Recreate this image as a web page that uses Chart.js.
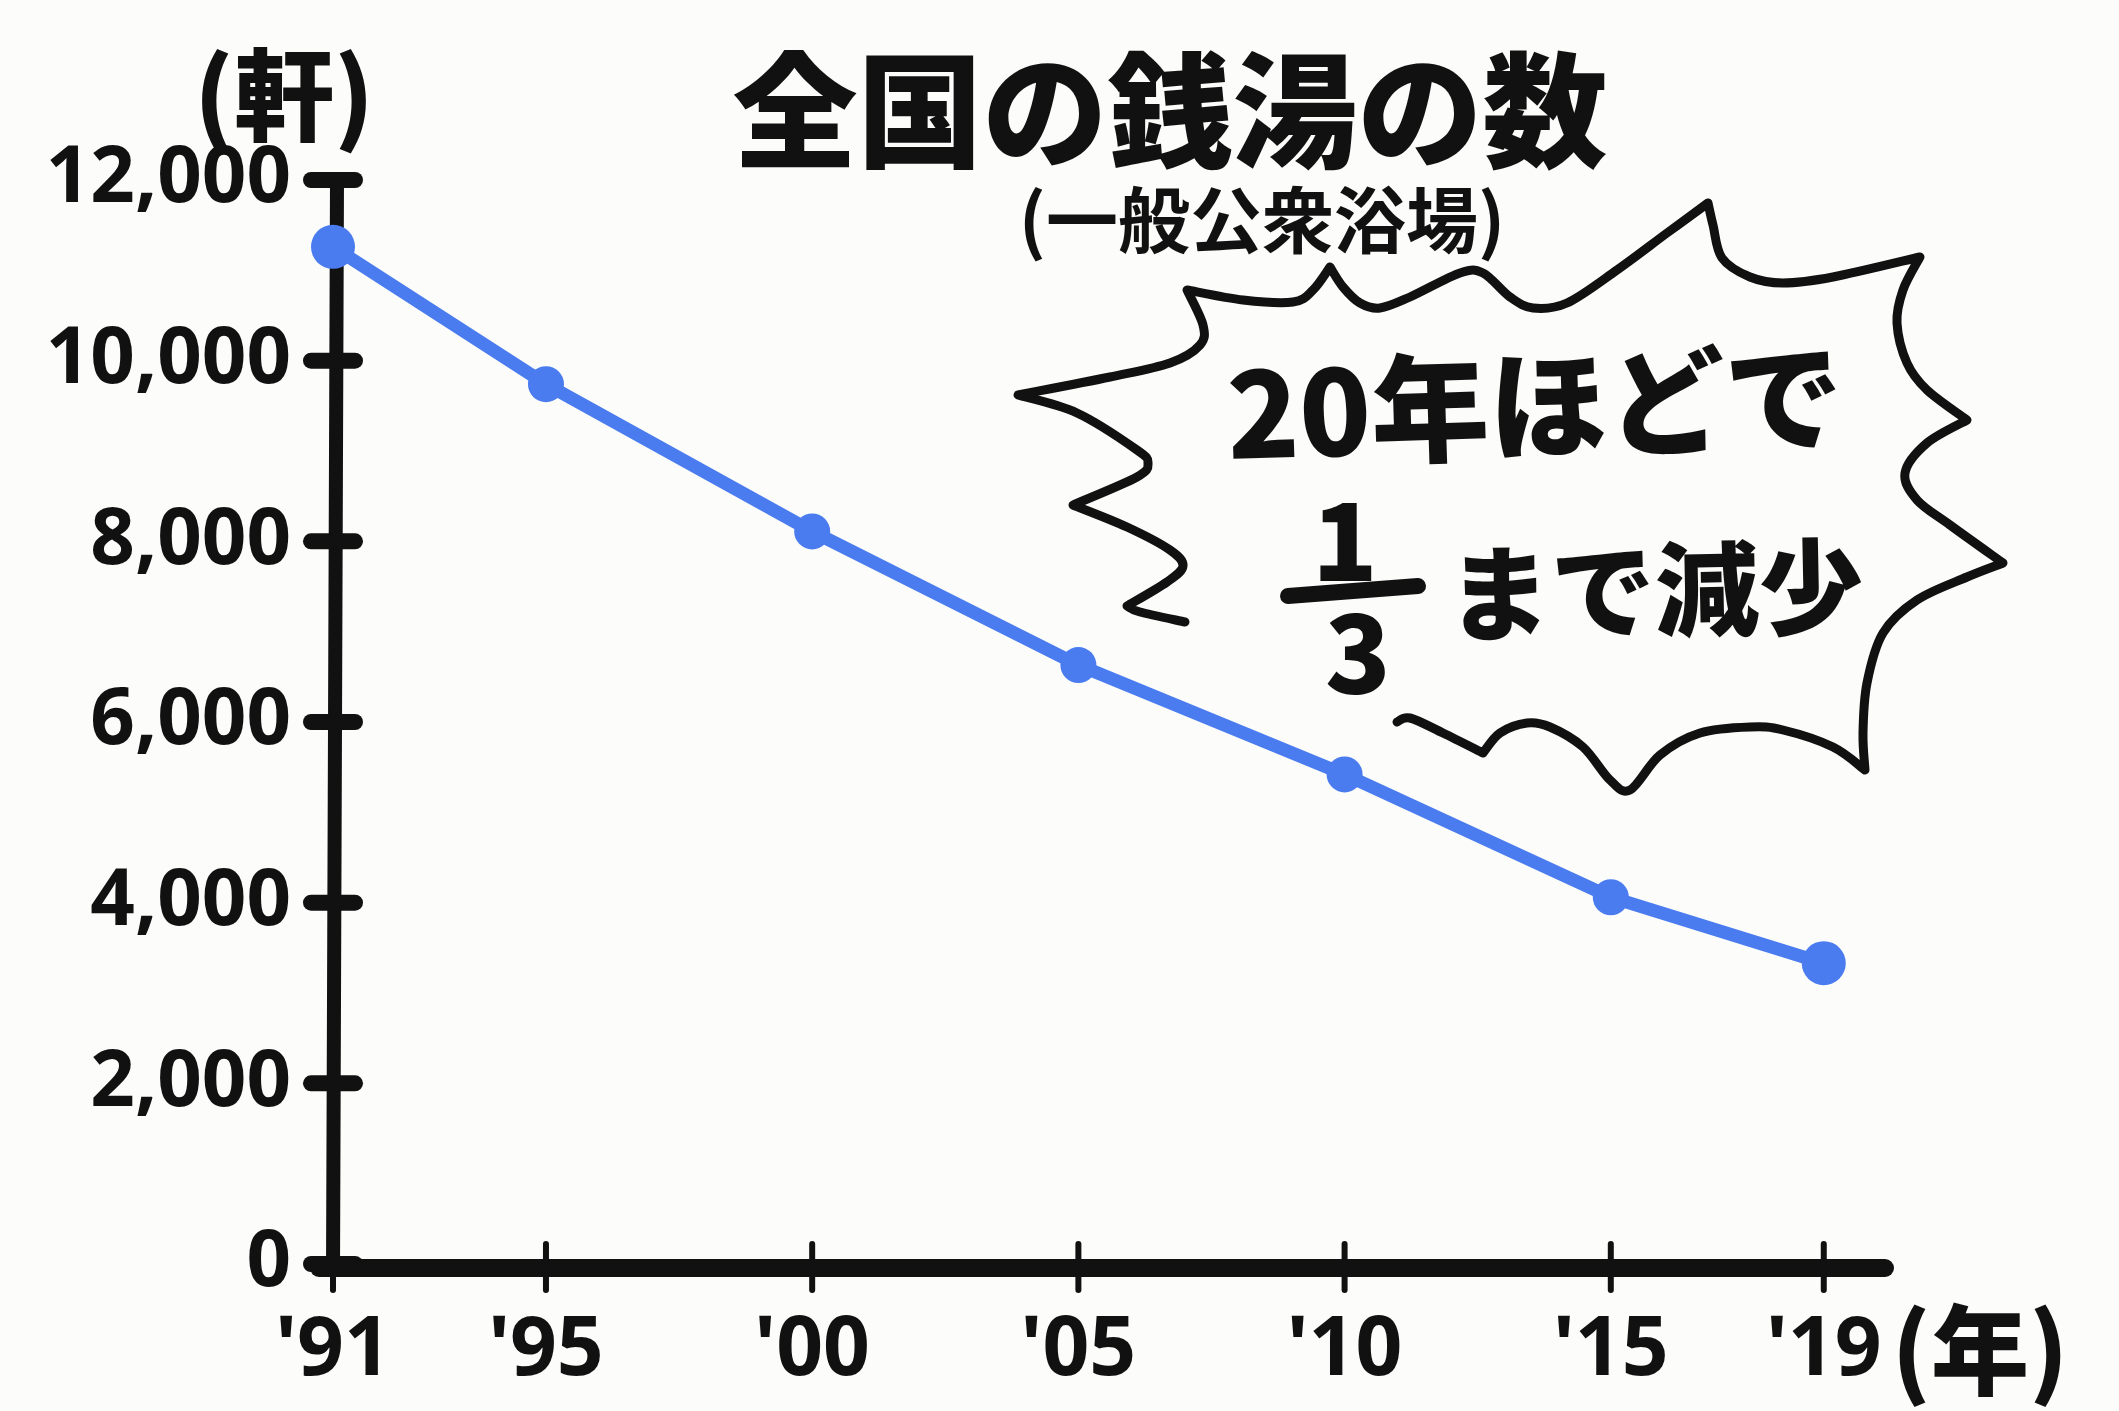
<!DOCTYPE html>
<html>
<head>
<meta charset="utf-8">
<script src="https://cdn.jsdelivr.net/npm/chart.js@4.4.1/dist/chart.umd.min.js"></script>
<style>
  html, body { margin: 0; background: #fcfcfa; }
  canvas { display: block; }
</style>
</head>
<body>
<canvas id="chart" width="2119" height="1411"></canvas>
<script>
// data
const years = [1991, 1995, 2000, 2005, 2010, 2015, 2019];
const yearLabels = ["'91", "'95", "'00", "'05", "'10", "'15", "'19"];
const bathCounts = [11260, 9740, 8110, 6630, 5420, 4060, 3330];
const yTickValues = [0, 2000, 4000, 6000, 8000, 10000, 12000];

const titleText = "全国の銭湯の数";
const subtitleText = "(一般公衆浴場)";
const yUnit = "(軒)";
const xUnit = "(年)";
const calloutLine1 = "20年ほどで";
const calloutLine2 = "まで減少";

const INK = "#111";
const BLUE = "#4a7cf0";
const JP = "'Noto Sans CJK JP', 'Noto Sans', sans-serif";
const NUM = "'Noto Sans', sans-serif";

// outline of the speech bubble (canvas px), each part is smooth, parts meet at sharp tips
const bubbleParts = [
  [[1185,622],[1140,612],[1127,606]],
  [[1127,606],[1167,582],[1183,566],[1170,550],[1127,527],[1073,505]],
  [[1073,505],[1137,477],[1148,463],[1137,450],[1077,413],[1018,395]],
  [[1018,395],[1110,377],[1170,363],[1200,345],[1203,325],[1187,290]],
  [[1187,290],[1243,300],[1293,302],[1313,290],[1330,267]],
  [[1330,267],[1343,287],[1360,303],[1380,308],[1410,297],[1460,273],[1483,273],[1510,297],[1533,308],[1567,303],[1617,270],[1667,233],[1708,203]],
  [[1708,203],[1713,225],[1722,258],[1750,277],[1783,283],[1833,277],[1920,257]],
  [[1920,257],[1903,290],[1897,323],[1907,363],[1927,390],[1967,420]],
  [[1967,420],[1927,443],[1905,473],[1917,500],[1950,525],[2003,563]],
  [[2003,563],[1967,577],[1917,600],[1883,633],[1867,683],[1863,733],[1865,770]],
  [[1865,770],[1833,747],[1783,730],[1750,727],[1700,733],[1660,755],[1630,790],[1610,780],[1583,747],[1550,727],[1527,723],[1500,733],[1483,753]],
  [[1483,753],[1443,733],[1410,718],[1397,722]]
];

function smoothPart(ctx, pts) {
  for (let i = 0; i < pts.length - 1; i++) {
    const p0 = pts[i - 1] || pts[i];
    const p1 = pts[i];
    const p2 = pts[i + 1];
    const p3 = pts[i + 2] || pts[i + 1];
    ctx.bezierCurveTo(
      p1[0] + (p2[0] - p0[0]) / 6, p1[1] + (p2[1] - p0[1]) / 6,
      p2[0] - (p3[0] - p1[0]) / 6, p2[1] - (p3[1] - p1[1]) / 6,
      p2[0], p2[1]
    );
  }
}

// axes drawn as marker strokes, positions from the chart scales
const axesPlugin = {
  id: "handAxes",
  beforeDatasetsDraw(chart) {
    const { ctx, chartArea, scales } = chart;
    const x = scales.x, y = scales.y;
    ctx.save();
    ctx.strokeStyle = INK;
    ctx.lineCap = "round";

    // y axis
    ctx.lineWidth = 14;
    ctx.beginPath();
    ctx.moveTo(chartArea.left + 4, y.getPixelForValue(12000));
    ctx.lineTo(chartArea.left, y.getPixelForValue(0) + 6);
    ctx.stroke();

    // y ticks
    ctx.lineWidth = 16;
    yTickValues.forEach((v) => {
      const py = y.getPixelForValue(v);
      ctx.beginPath();
      ctx.moveTo(chartArea.left - 22, py);
      ctx.lineTo(chartArea.left + 22, py);
      ctx.stroke();
    });

    // x axis
    ctx.lineWidth = 18;
    ctx.beginPath();
    ctx.moveTo(chartArea.left - 14, chartArea.bottom + 4);
    ctx.lineTo(chartArea.right, chartArea.bottom + 4);
    ctx.stroke();

    // x ticks
    ctx.lineWidth = 6;
    years.forEach((yr) => {
      const px = x.getPixelForValue(yr);
      ctx.beginPath();
      ctx.moveTo(px, chartArea.bottom - 20);
      ctx.lineTo(px, chartArea.bottom + 26);
      ctx.stroke();
    });
    ctx.restore();
  },
  afterDraw(chart) {
    const { ctx } = chart;
    ctx.save();
    ctx.fillStyle = INK;
    ctx.textAlign = "center";
    ctx.textBaseline = "middle";

    ctx.font = `900 125px ${JP}`;
    ctx.fillText(titleText, 1170, 110);

    ctx.font = `700 72px ${JP}`;
    ctx.fillText(subtitleText, 1262, 220);

    ctx.font = `900 100px ${JP}`;
    ctx.fillText(yUnit, 284, 95);

    ctx.font = `900 98px ${JP}`;
    ctx.fillText(xUnit, 1980, 1350);

    // speech bubble
    ctx.strokeStyle = INK;
    ctx.lineWidth = 9;
    ctx.lineJoin = "round";
    ctx.lineCap = "round";
    ctx.beginPath();
    ctx.moveTo(bubbleParts[0][0][0], bubbleParts[0][0][1]);
    bubbleParts.forEach((p) => smoothPart(ctx, p));
    ctx.stroke();

    // callout text
    ctx.save();
    ctx.translate(1535, 405);
    ctx.rotate(-0.03);
    ctx.font = `900 118px ${JP}`;
    ctx.fillText(calloutLine1, 0, 0);
    ctx.restore();

    // fraction 1/3
    ctx.font = `900 108px ${JP}`;
    ctx.fillText("1", 1345, 540);
    ctx.fillText("3", 1358, 652);
    ctx.lineWidth = 16;
    ctx.beginPath();
    ctx.moveTo(1288, 596);
    ctx.lineTo(1418, 586);
    ctx.stroke();

    ctx.save();
    ctx.translate(1655, 590);
    ctx.rotate(-0.02);
    ctx.font = `900 104px ${JP}`;
    ctx.fillText(calloutLine2, 0, 0);
    ctx.restore();

    ctx.restore();
  }
};

const bgPlugin = {
  id: "bg",
  beforeDraw(chart) {
    const { ctx, width, height } = chart;
    ctx.save();
    ctx.fillStyle = "#fcfcfa";
    ctx.fillRect(0, 0, width, height);
    ctx.restore();
  }
};

new Chart(document.getElementById("chart"), {
  type: "line",
  data: {
    datasets: [{
      data: years.map((yr, i) => ({ x: yr, y: bathCounts[i] })),
      borderColor: BLUE,
      backgroundColor: BLUE,
      borderWidth: 13,
      pointRadius: (c) => (c.dataIndex === 0 || c.dataIndex === years.length - 1 ? 22 : 18),
      pointBorderWidth: 0,
      pointBackgroundColor: BLUE,
      tension: 0,
      clip: false
    }]
  },
  options: {
    responsive: false,
    animation: false,
    layout: { padding: { top: 180, right: 234, left: 0, bottom: 0 } },
    plugins: {
      legend: { display: false },
      tooltip: { enabled: false }
    },
    scales: {
      x: {
        type: "linear",
        min: 1991,
        max: 2020.15,
        grid: { display: false, drawTicks: false },
        border: { display: false },
        afterBuildTicks: (scale) => { scale.ticks = years.map((v) => ({ value: v })); },
        afterFit: (scale) => { scale.height = 147; },
        ticks: {
          autoSkip: false,
          maxRotation: 0,
          padding: 38,
          color: INK,
          font: { family: NUM, size: 82, weight: "bold" },
          callback: (v) => yearLabels[years.indexOf(v)]
        }
      },
      y: {
        min: 0,
        max: 12000,
        grid: { display: false, drawTicks: false },
        border: { display: false },
        afterBuildTicks: (scale) => { scale.ticks = yTickValues.map((v) => ({ value: v })); },
        afterFit: (scale) => { scale.width = 333; },
        ticks: {
          padding: 42,
          color: INK,
          font: { family: NUM, size: 78, weight: "bold" },
          callback: (v) => v.toLocaleString("en-US")
        }
      }
    }
  },
  plugins: [bgPlugin, axesPlugin]
});
</script>
</body>
</html>
